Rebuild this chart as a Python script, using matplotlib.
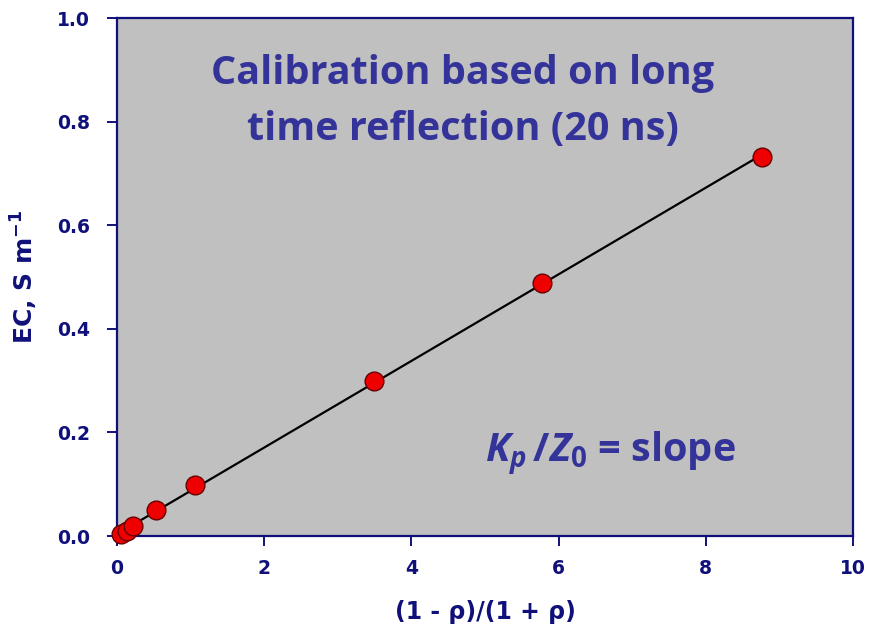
import numpy as np
import matplotlib
matplotlib.use("Agg")
import matplotlib.pyplot as plt

# data
ratio = [0.06, 0.13, 0.22, 0.53, 1.06, 3.49, 5.77, 8.76]
ec = [0.003, 0.010, 0.020, 0.051, 0.098, 0.300, 0.488, 0.732]
xticks = [0, 2, 4, 6, 8, 10]
yticks = [0.0, 0.2, 0.4, 0.6, 0.8, 1.0]

navy = "#10107a"
text_blue = "#333399"

plt.rcParams["mathtext.fontset"] = "custom"
plt.rcParams["mathtext.rm"] = "Open Sans:bold"
plt.rcParams["mathtext.it"] = "Open Sans:bold:italic"
plt.rcParams["mathtext.bf"] = "Open Sans:bold"

fig = plt.figure(figsize=(8.69, 6.37), dpi=100)
ax = fig.add_axes([117 / 869, 1 - 536 / 637, (853 - 117) / 869, (536 - 18) / 637])
ax.set_facecolor("#c0c0c0")

# least-squares fit through the points
slope, intercept = np.polyfit(ratio, ec, deg=1)
xfit = np.array([0.0, max(ratio)])
ax.plot(xfit, slope * xfit + intercept, color="black", lw=1.6, zorder=2)
ax.plot(ratio, ec, "o", ms=13.5, mfc="#ee0000", mec="#660000", mew=1.0,
        zorder=3, clip_on=False)

ax.set_xlim(0, 10)
ax.set_ylim(0, 1.0)
ax.set_xticks(xticks)
ax.set_yticks(yticks)
ax.set_xticklabels([str(t) for t in xticks])
ax.set_yticklabels([f"{t:.1f}" for t in yticks])

for s in ax.spines.values():
    s.set_color(navy)
    s.set_linewidth(1.6)
ax.tick_params(direction="out", length=7.5, width=1.4, color=navy, labelcolor=navy,
               labelsize=13.5)
ax.tick_params(axis="x", pad=9)
ax.tick_params(axis="y", pad=12)
for lab in ax.get_xticklabels() + ax.get_yticklabels():
    lab.set_fontweight("bold")
    lab.set_family("DejaVu Sans")

ax.set_xlabel("(1 - ρ)/(1 + ρ)", fontsize=17, fontweight="bold", color=navy,
              family="DejaVu Sans", labelpad=16)
ax.set_ylabel("EC, S m$^{\\mathregular{-1}}$", fontsize=18, fontweight="bold", color=navy,
              family="DejaVu Sans", labelpad=12)

ax.text(0.470, 0.839, "Calibration based on long\ntime reflection (20 ns)",
        transform=ax.transAxes, ha="center", va="center", fontsize=28.5,
        fontweight="bold", color=text_blue, family="Open Sans", linespacing=1.58)
ax.text(0.670, 0.158, r"$K_p\,/Z_0$ = slope", transform=ax.transAxes,
        ha="center", va="center", fontsize=28.5, fontweight="bold",
        color=text_blue, family="Open Sans")

fig.savefig("out.png", dpi=100)
